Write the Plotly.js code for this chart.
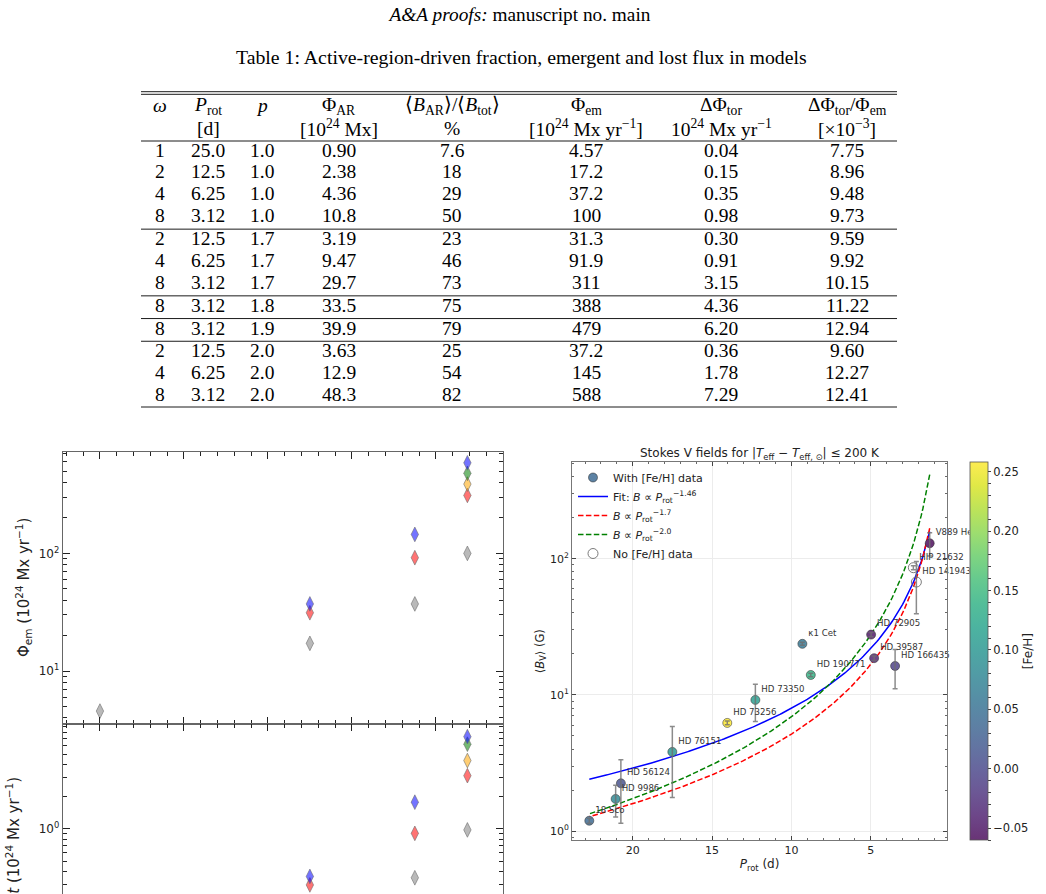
<!DOCTYPE html>
<html>
<head>
<meta charset="utf-8">
<script src="https://cdn.plot.ly/plotly-3.0.1.min.js"></script>
<style>
  html, body { margin: 0; padding: 0; background: #fff; overflow: hidden; }
  #wrap { width: 1046px; height: 894px; overflow: hidden; position: relative; }
  #fig { width: 1046px; height: 1000px; }
</style>
</head>
<body>
<div id="wrap"><div id="fig"></div></div>
<script>
// ---- Table 1: models ----
const omega    = ['1', '2', '4', '8', '2', '4', '8', '8', '8', '2', '4', '8'];
const prot     = ['25.0', '12.5', '6.25', '3.12', '12.5', '6.25', '3.12', '3.12', '3.12', '12.5', '6.25', '3.12'];
const pExp     = ['1.0', '1.0', '1.0', '1.0', '1.7', '1.7', '1.7', '1.8', '1.9', '2.0', '2.0', '2.0'];
const phiAR    = ['0.90', '2.38', '4.36', '10.8', '3.19', '9.47', '29.7', '33.5', '39.9', '3.63', '12.9', '48.3'];
const bRatio   = ['7.6', '18', '29', '50', '23', '46', '73', '75', '79', '25', '54', '82'];
const phiEm    = ['4.57', '17.2', '37.2', '100', '31.3', '91.9', '311', '388', '479', '37.2', '145', '588'];
const dPhiTor  = ['0.04', '0.15', '0.35', '0.98', '0.30', '0.91', '3.15', '4.36', '6.20', '0.36', '1.78', '7.29'];
const torRatio = ['7.75', '8.96', '9.48', '9.73', '9.59', '9.92', '10.15', '11.22', '12.94', '9.60', '12.27', '12.41'];

const headNames = ['<i>ω</i>', '<i>P</i><sub>rot</sub>', '<i>p</i>', 'Φ<sub>AR</sub>',
  '⟨<i>B</i><sub>AR</sub>⟩/⟨<i>B</i><sub>tot</sub>⟩', 'Φ<sub>em</sub>', 'ΔΦ<sub>tor</sub>',
  'ΔΦ<sub>tor</sub>/Φ<sub>em</sub>'];
const headUnits = ['', '[d]', '', '[10<sup>24</sup> Mx]', '%', '[10<sup>24</sup> Mx yr<sup>−1</sup>]',
  '10<sup>24</sup> Mx yr<sup>−1</sup>', '[×10<sup>−3</sup>]'];

// ---- Stokes V sample ----
const starNames = ['18 Sco', 'HD 9986', 'HD 56124', 'HD 76151', 'HD 73256', 'HD 73350',
  'κ1 Cet', 'HD 190771', 'HD 72905', 'HD 39587', 'HD 166435', 'V889 Her'];
const starProt = [22.73, 21.07, 20.74, 17.5, 14.04, 12.27, 9.31, 8.78, 4.98, 4.79, 3.47, 1.29];
const starB    = [1.19, 1.72, 2.24, 3.81, 6.22, 9.18, 23.7, 14.0, 27.7, 18.6, 16.3, 129.8];
const starBErr = [0.05, 0.45, 1.1, 2.05, 0.2, 2.8, 0.6, 0.4, 1.0, 0.7, 5.2, 25];
const starFeH  = [0.04, 0.08, 0.01, 0.10, 0.258, 0.11, 0.06, 0.14, -0.05, -0.04, -0.01, -0.06];

const noFeHNames = ['HIP 21632', 'HD 141943'];
const noFeHProt  = [2.32, 2.13];
const noFeHB     = [85.9, 67.4];
const noFeHErr   = [3, 28];

// power laws B = A * P^k (A = field at P_rot = 1 d)
const lawNames = ['Fit: <i>B</i> ∝ <i>P</i><sub>rot</sub><sup>−1.46</sup>',
  '<i>B</i> ∝ <i>P</i><sub>rot</sub><sup>−1.7</sup>',
  '<i>B</i> ∝ <i>P</i><sub>rot</sub><sup>−2.0</sup>'];
const lawExponents  = [-1.46, -1.7, -2.0];
const lawAmplitudes = [229.6, 258.2, 690.2];

// ---- page geometry (pixels -> paper) ----
const W = 1046, H = 1000;
const px = v => v / W;
const py = v => 1 - v / H;

const serif = 'Liberation Serif, Times New Roman, serif';
const sans = 'DejaVu Sans, sans-serif';

const annotations = [];
const shapes = [];

// ---- table ----
const colX = [160, 208, 262, 339, 452, 586, 721, 847];
const columns = [omega, prot, pExp, phiAR, bRatio, phiEm, dPhiTor, torRatio];
const tabLeft = 141, tabRight = 897;
const tabFont = {family: serif, size: 19.5, color: '#000'};

const group = [];
pExp.forEach((p, i) => group.push(i === 0 ? 0 : group[i - 1] + (p !== pExp[i - 1] ? 1 : 0)));
const rowY = i => 150 + 22 * i + 0.7 * group[i];

annotations.push({xref: 'paper', yref: 'paper', x: px(521), y: py(57), text: 'Table 1: Active-region-driven fraction, emergent and lost flux in models',
  showarrow: false, font: {family: serif, size: 19.8, color: '#000'}, xanchor: 'center', yanchor: 'middle'});

headNames.forEach((t, c) => {
  annotations.push({xref: 'paper', yref: 'paper', x: px(colX[c]), y: py(106), text: t, showarrow: false,
    font: tabFont, xanchor: 'center', yanchor: 'middle'});
  if (headUnits[c]) annotations.push({xref: 'paper', yref: 'paper', x: px(colX[c]), y: py(128), text: headUnits[c],
    showarrow: false, font: tabFont, xanchor: 'center', yanchor: 'middle'});
});
columns.forEach((col, c) => col.forEach((v, i) => {
  annotations.push({xref: 'paper', yref: 'paper', x: px(colX[c]), y: py(rowY(i)), text: v, showarrow: false,
    font: tabFont, xanchor: 'center', yanchor: 'middle'});
}));

const rule = (y, w) => shapes.push({type: 'line', xref: 'paper', yref: 'paper', x0: px(tabLeft), x1: px(tabRight),
  y0: py(y), y1: py(y), line: {color: '#000', width: w}});
rule(91.7, 0.9); rule(94.3, 0.9); rule(141, 0.9);
for (let i = 1; i < pExp.length; i++) if (group[i] !== group[i - 1]) rule((rowY(i - 1) + rowY(i)) / 2 + 1.8, 0.9);
rule(407, 0.9);

// ---- left figure: emergent and lost flux vs rotation period ----
const pStyles = {'1.0': '128,128,128', '1.7': '255,0,0', '1.8': '255,165,0', '1.9': '0,128,0', '2.0': '0,0,255'};
const traces = [];
const pLevels = [...new Set(pExp)];
pLevels.forEach(p => {
  const idx = pExp.map((v, i) => v === p ? i : -1).filter(i => i >= 0);
  const mk = {symbol: 'diamond-tall', size: 10.5, color: 'rgba(' + pStyles[p] + ',0.55)',
    line: {color: 'rgba(110,110,110,0.6)', width: 1}};
  traces.push({type: 'scatter', mode: 'markers', xaxis: 'x', yaxis: 'y', showlegend: false, hoverinfo: 'skip',
    x: idx.map(i => parseFloat(prot[i])), y: idx.map(i => parseFloat(phiEm[i])), marker: mk});
  traces.push({type: 'scatter', mode: 'markers', xaxis: 'x2', yaxis: 'y2', showlegend: false, hoverinfo: 'skip',
    x: idx.map(i => parseFloat(prot[i])), y: idx.map(i => parseFloat(dPhiTor[i])), marker: mk});
});

// ---- right figure: Stokes V fields ----
const viridis = ['#440154', '#48186a', '#472d7b', '#424086', '#3b528b', '#33638d', '#2c728e', '#26828e', '#21918c',
  '#1fa088', '#28ae80', '#3fbc73', '#5ec962', '#84d44b', '#addc30', '#d8e219', '#fde725'];
const fade = (hex, a) => {
  const n = parseInt(hex.slice(1), 16);
  const ch = [(n >> 16) & 255, (n >> 8) & 255, n & 255].map(c => Math.round(c * a + 255 * (1 - a)));
  return 'rgb(' + ch.join(',') + ')';
};
const viridisSoft = viridis.map((c, i) => [i / (viridis.length - 1), fade(c, 0.8)]);

const pMin = Math.min(...starProt), pMax = Math.max(...starProt);
const curveP = [];
for (let i = 0; i <= 200; i++) curveP.push(pMin + (pMax - pMin) * i / 200);
const lawColors = ['blue', 'red', 'green'];
const lawDash = ['solid', '5.5px,2.4px', '5.5px,2.4px'];
lawExponents.forEach((k, j) => {
  traces.push({type: 'scatter', mode: 'lines', xaxis: 'x3', yaxis: 'y3', name: lawNames[j], legendrank: 2 + j,
    hoverinfo: 'skip', x: curveP, y: curveP.map(P => lawAmplitudes[j] * Math.pow(P, k)),
    line: {color: lawColors[j], width: 1.5, dash: lawDash[j]}});
});

const cTicks = [], cText = [];
for (let k = -6; k <= 25; k++) { cTicks.push(k / 100); cText.push(k % 5 === 0 ? (k / 100).toFixed(2).replace('-', '−') : ''); }

traces.push({type: 'scatter', mode: 'markers', xaxis: 'x3', yaxis: 'y3', name: 'With [Fe/H] data', legendrank: 1,
  x: starProt, y: starB, text: starNames, hoverinfo: 'text',
  marker: {size: 9, color: starFeH, colorscale: viridisSoft, cmin: Math.min(...starFeH), cmax: Math.max(...starFeH),
    line: {color: 'rgba(50,50,50,0.7)', width: 0.8},
    colorbar: {x: px(970), xanchor: 'left', xpad: 0, ypad: 0, y: py(651.15), yanchor: 'middle',
      len: 377.7, lenmode: 'pixels', thickness: 18, thicknessmode: 'pixels',
      outlinecolor: '#555', outlinewidth: 0.8, bgcolor: '#ffffff',
      tickmode: 'array', tickvals: cTicks, ticktext: cText, ticks: 'outside', ticklen: 3, tickcolor: '#444',
      tickfont: {family: sans, size: 11.5, color: '#222'},
      title: {text: '[Fe/H]', side: 'right', font: {family: sans, size: 12, color: '#222'}}}}});
traces.push({type: 'scatter', mode: 'markers', xaxis: 'x3', yaxis: 'y3', name: 'No [Fe/H] data', legendrank: 5,
  x: noFeHProt, y: noFeHB, text: noFeHNames, hoverinfo: 'text',
  marker: {symbol: 'circle-open', size: 10, color: 'rgba(110,110,110,0.9)', line: {width: 1}}});

// error bars drawn above the markers
const errStyle = {type: 'data', visible: true, color: 'rgba(110,110,110,0.8)', thickness: 1.5, width: 2.5};
traces.push({type: 'scatter', mode: 'markers', xaxis: 'x3', yaxis: 'y3', showlegend: false, hoverinfo: 'skip',
  x: starProt, y: starB, marker: {size: 1, color: 'rgba(0,0,0,0)'}, error_y: Object.assign({array: starBErr}, errStyle)});
traces.push({type: 'scatter', mode: 'markers', xaxis: 'x3', yaxis: 'y3', showlegend: false, hoverinfo: 'skip',
  x: noFeHProt, y: noFeHB, marker: {size: 1, color: 'rgba(0,0,0,0)'}, error_y: Object.assign({array: noFeHErr}, errStyle)});

// star names
traces.push({type: 'scatter', mode: 'markers+text', xaxis: 'x3', yaxis: 'y3', showlegend: false, hoverinfo: 'skip',
  x: starProt.concat(noFeHProt), y: starB.concat(noFeHB), text: starNames.concat(noFeHNames),
  textposition: 'top right', cliponaxis: false, textfont: {family: sans, size: 8.6, color: '#333'},
  marker: {size: 8, color: 'rgba(0,0,0,0)'}});

// ---- axes ----
function logMinor(lo, hi) {
  const v = [];
  for (let e = lo; e <= hi; e++) for (let m = 2; m <= 9; m++) v.push(m * Math.pow(10, e));
  return v;
}
const leftTickFont = {family: sans, size: 12, color: '#222'};
const leftX = {domain: [px(63), px(503)], range: [27.2, 1.0], showticklabels: false, ticks: 'inside', ticklen: 7,
  tickwidth: 1, tickcolor: '#222', tickmode: 'linear', tick0: 0, dtick: 5,
  minor: {ticks: 'inside', ticklen: 4, tickwidth: 1, tickcolor: '#222', tick0: 0, dtick: 1, showgrid: false},
  showline: true, linecolor: '#666', linewidth: 1.3, mirror: 'ticks', showgrid: false, zeroline: false};
const leftY = (dom, rng, vals, txt) => ({domain: dom, type: 'log', range: rng, tickmode: 'array', tickvals: vals, ticktext: txt,
  ticks: 'inside', ticklen: 7, tickwidth: 1, tickcolor: '#222', tickfont: leftTickFont,
  minor: {tickmode: 'array', tickvals: logMinor(-2, 2), ticks: 'inside', ticklen: 4, tickwidth: 1, tickcolor: '#222', showgrid: false},
  showline: true, linecolor: '#666', linewidth: 1.3, mirror: 'ticks', showgrid: false, zeroline: false});

const rightTickFont = {family: sans, size: 11, color: '#222'};

const layout = {
  width: W, height: H, margin: {l: 0, r: 0, t: 0, b: 0}, paper_bgcolor: '#fff', plot_bgcolor: 'rgba(0,0,0,0)',
  showlegend: true,
  title: {text: '<i>A&amp;A proofs:</i> manuscript no. main', x: px(520), xanchor: 'center', y: py(14), yanchor: 'middle',
    font: {family: serif, size: 19.3, color: '#000'}},
  xaxis: Object.assign({anchor: 'y'}, leftX),
  yaxis: Object.assign({anchor: 'x'}, leftY([py(724), py(452)], [Math.log10(3.55), Math.log10(727)], [10, 100],
    ['10<sup>1</sup>', '10<sup>2</sup>'])),
  xaxis2: Object.assign({anchor: 'y2', matches: 'x'}, leftX),
  yaxis2: Object.assign({anchor: 'x2'}, leftY([py(996), py(724)], [-1.561, 0.981], [0.1, 1],
    ['10<sup>−1</sup>', '10<sup>0</sup>'])),
  xaxis3: {anchor: 'y3', domain: [px(572.3), px(946.7)], range: [23.8, 0.22], tickmode: 'linear', tick0: 0, dtick: 5,
    ticks: 'inside', ticklen: 4, tickwidth: 1, tickcolor: '#444', tickfont: rightTickFont,
    minor: {ticks: 'inside', ticklen: 2, tickwidth: 0.8, tickcolor: '#444', tick0: 0, dtick: 1, showgrid: false},
    showline: true, linecolor: '#777', linewidth: 1.2, mirror: 'ticks', showgrid: true, gridcolor: '#ececec', gridwidth: 1,
    zeroline: false, title: {text: '<i>P</i><sub>rot</sub> (d)', font: {family: sans, size: 12, color: '#222'}, standoff: 3}},
  yaxis3: {anchor: 'x3', domain: [py(840), py(462.3)], type: 'log', range: [-0.066, 2.708], tickmode: 'array',
    tickvals: [1, 10, 100], ticktext: ['10<sup>0</sup>', '10<sup>1</sup>', '10<sup>2</sup>'],
    ticks: 'inside', ticklen: 4, tickwidth: 1, tickcolor: '#444', tickfont: rightTickFont,
    minor: {tickmode: 'array', tickvals: logMinor(-1, 2), ticks: 'inside', ticklen: 2, tickwidth: 0.8, tickcolor: '#444', showgrid: false},
    showline: true, linecolor: '#777', linewidth: 1.2, mirror: 'ticks', showgrid: true, gridcolor: '#ececec', gridwidth: 1,
    zeroline: false, title: {text: '⟨<i>B</i><sub>V</sub>⟩ (G)', font: {family: sans, size: 11.5, color: '#222'}, standoff: 3}},
  legend: {x: px(573), y: py(463), xanchor: 'left', yanchor: 'top', bgcolor: 'rgba(0,0,0,0)', borderwidth: 0,
    font: {family: sans, size: 11, color: '#222'}, tracegroupgap: 0, itemsizing: 'trace'},
  annotations: annotations.concat([
    {xref: 'paper', yref: 'paper', x: px(759.5), y: py(454), text: 'Stokes V fields for |<i>T</i><sub>eff</sub> − <i>T</i><sub>eff, ⊙</sub>| ≤ 200 K',
      showarrow: false, xanchor: 'center', yanchor: 'middle', font: {family: sans, size: 12, color: '#222'}},
    {xref: 'paper', yref: 'paper', x: px(23), y: py(588), textangle: -90, showarrow: false, xanchor: 'center', yanchor: 'middle',
      text: 'Φ<sub>em</sub> (10<sup>24</sup> Mx yr<sup>−1</sup>)', font: {family: sans, size: 15, color: '#222'}},
    {xref: 'paper', yref: 'paper', x: px(13), y: py(862), textangle: -90, showarrow: false, xanchor: 'center', yanchor: 'middle',
      text: 'ΔΦ<sub>tor</sub>/Δ<i>t</i> (10<sup>24</sup> Mx yr<sup>−1</sup>)', font: {family: sans, size: 15, color: '#222'}}
  ]),
  shapes: shapes
};

Plotly.newPlot('fig', traces, layout, {staticPlot: true, displayModeBar: false});
</script>
</body>
</html>
